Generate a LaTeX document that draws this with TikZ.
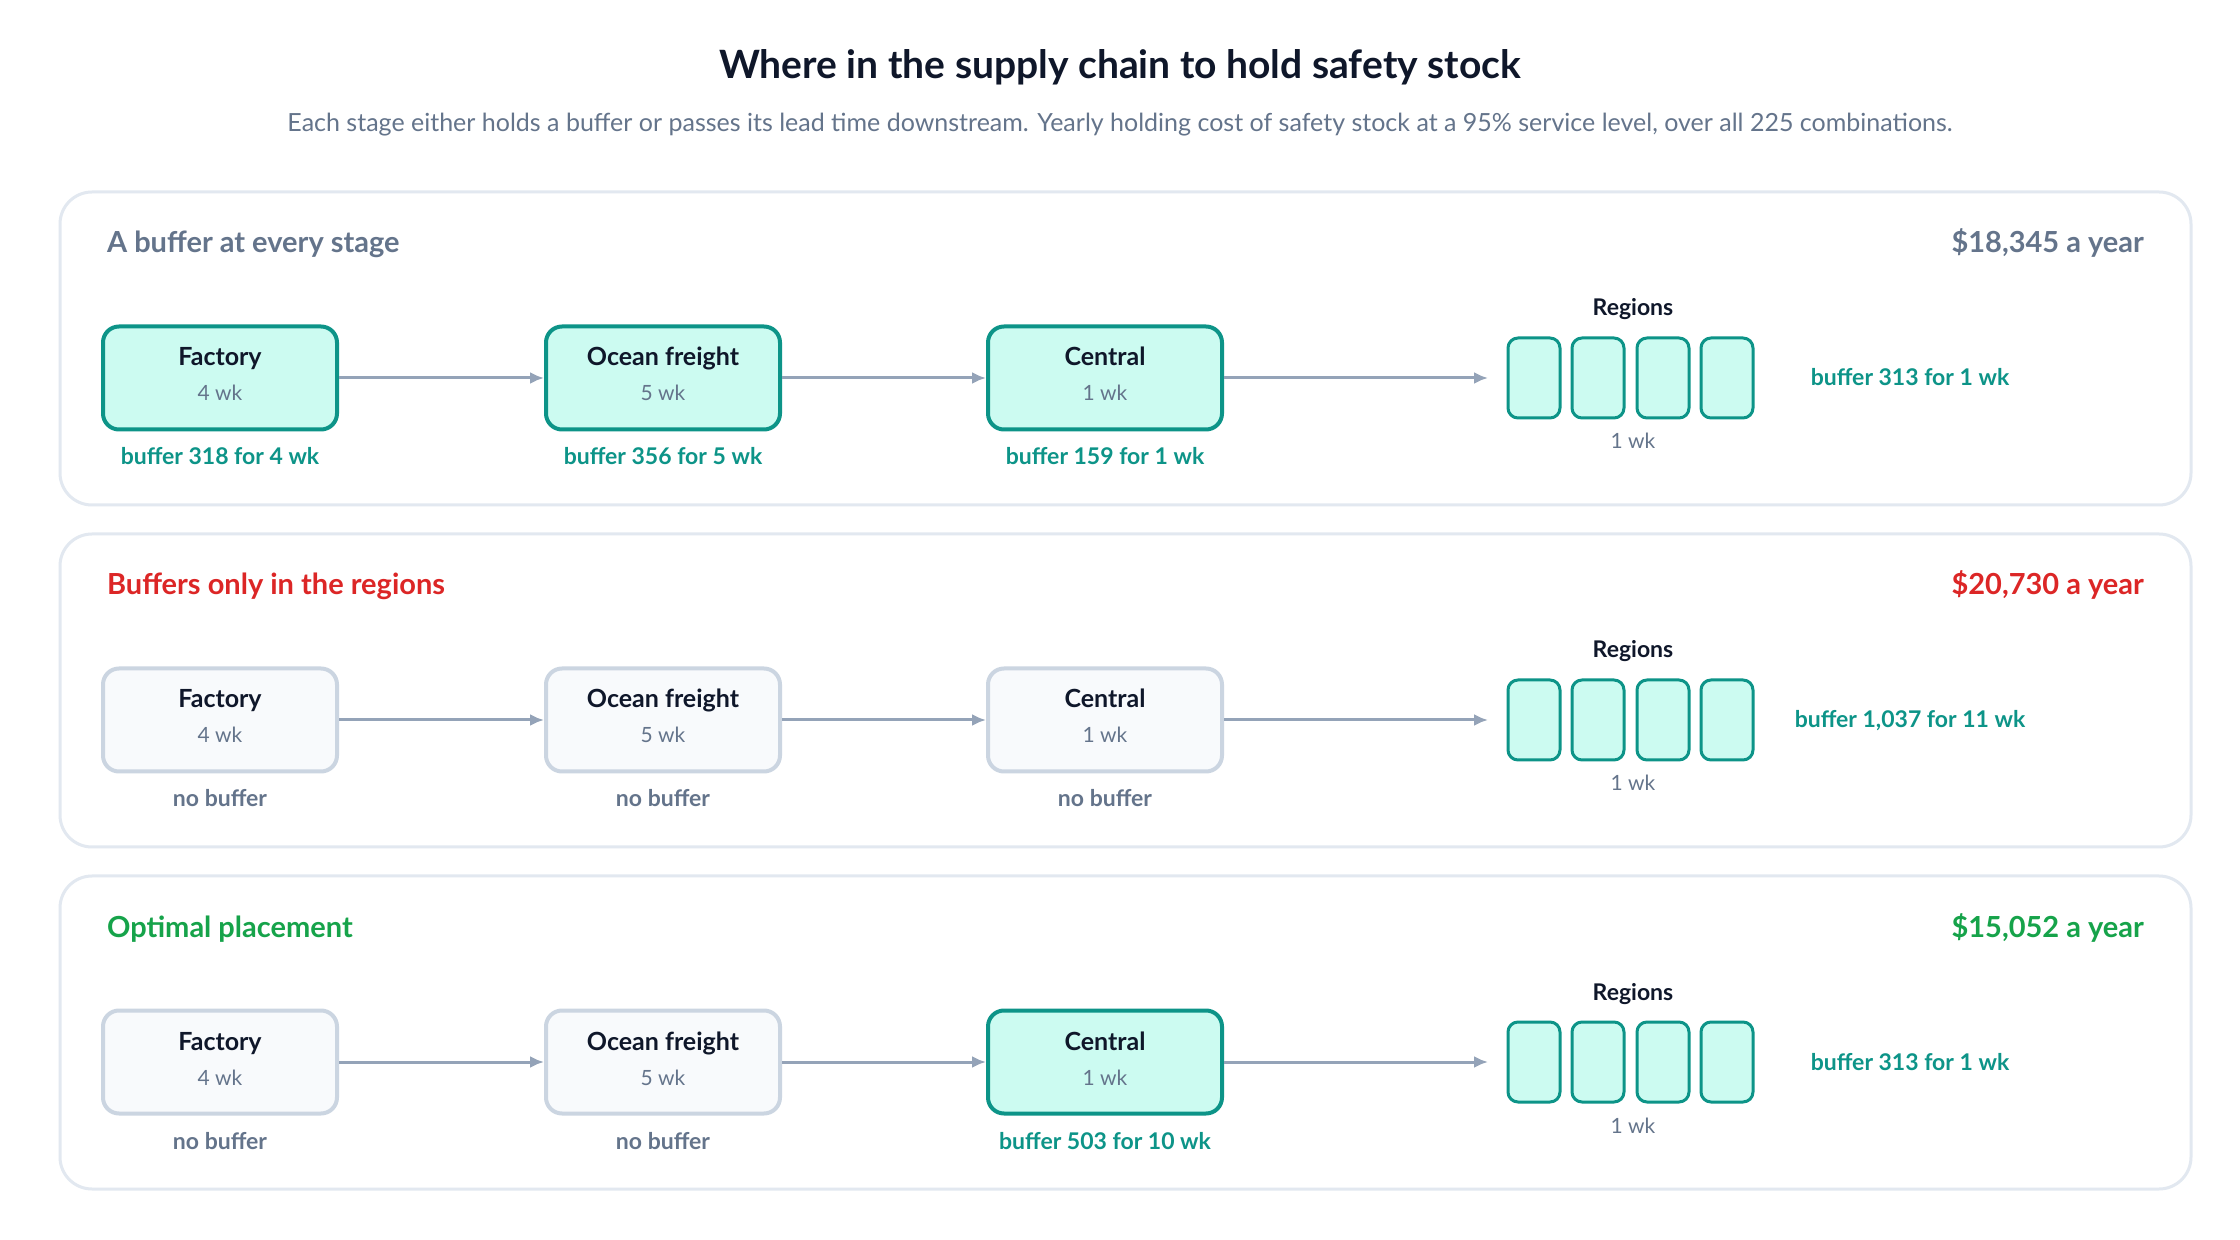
\documentclass[tikz,border=0pt]{standalone}
\usepackage{fontspec}
\setmainfont{Lato}
\usetikzlibrary{arrows.meta}
\definecolor{ink}{HTML}{0F172A}
\definecolor{slate}{HTML}{64748B}
\definecolor{teal}{HTML}{0D9488}
\definecolor{tealfill}{HTML}{CCFBF1}
\definecolor{grayfill}{HTML}{F8FAFC}
\definecolor{grayline}{HTML}{CBD5E1}
\definecolor{panelline}{HTML}{E2E8F0}
\definecolor{arrowc}{HTML}{94A3B8}
\definecolor{redc}{HTML}{DC2626}
\definecolor{greenc}{HTML}{16A34A}
\tikzset{
 panel/.style={draw=panelline,line width=1.5pt,rounded corners=16pt,fill=white},
 held/.style={draw=teal,fill=tealfill,line width=2pt,rounded corners=8pt,minimum width=117pt,minimum height=51.5pt},
 pass/.style={draw=grayline,fill=grayfill,line width=2pt,rounded corners=8pt,minimum width=117pt,minimum height=51.5pt},
 reg/.style={draw=teal,fill=tealfill,line width=1.5pt,rounded corners=5pt,minimum width=26pt,minimum height=40pt},
 txt/.style={anchor=base},
 bt/.style={txt,font=\fontsize{12.5}{14}\selectfont\bfseries,text=ink},
 wk/.style={txt,font=\fontsize{10.5}{12}\selectfont,text=slate},
 buf/.style={txt,font=\fontsize{11.5}{13}\selectfont\bfseries,text=teal},
 nob/.style={txt,font=\fontsize{11.5}{13}\selectfont\bfseries,text=slate},
 flow/.style={draw=arrowc,line width=1.5pt,-{Latex[length=7pt,width=6pt]}},
}
\begin{document}
\begin{tikzpicture}[x=0.5pt,y=-0.5pt]
\useasboundingbox (0,0) rectangle (2240,1240);
\fill[white] (0,0) rectangle (2240,1240);
\node[anchor=base,font=\fontsize{19.5}{22}\selectfont\bfseries,text=ink] (title) at (1120,79) {Where in the supply chain to hold safety stock};
\node[anchor=base,font=\fontsize{12.5}{15}\selectfont,text=slate] (sub) at (1120,132) {Each stage either holds a buffer or passes its lead time downstream. Yearly holding cost of safety stock at a 95\% service level, over all 225 combinations.};
\newcommand{\mypanel}[5]{%
 \begin{scope}[yshift=-#1*0.5pt]
 \draw[panel] (60,192) rectangle (2191,505);
 \node[anchor=base west,font=\fontsize{14.5}{17}\selectfont\bfseries,text=#2] (pt#1) at (100,253) {#3};
 \node[anchor=base east,font=\fontsize{14.5}{17}\selectfont\bfseries,text=#2] (pc#1) at (2151,253) {#4};
 #5
 \end{scope}}
\newcommand{\stages}[7]{%
 \node[#1] (f\thepn) at (220,378) {};
 \node[#2] (o\thepn) at (663,378) {};
 \node[#3] (c\thepn) at (1105,378) {};
 \node[bt] at (220,366) {Factory}; \node[wk] at (220,401) {4 wk};
 \node[bt] at (663,366) {Ocean freight}; \node[wk] at (663,401) {5 wk};
 \node[bt] at (1105,366) {Central}; \node[wk] at (1105,401) {1 wk};
 \node[#4] at (220,465) {#5};
 \node[#6] at (663,465) {#7};
 \coordinate (e\thepn) at (1488,378);
 \node[reg] (r1\thepn) at (1534,378) {};
 \node[reg] (r2\thepn) at (1598,378) {};
 \node[reg] (r3\thepn) at (1663,378) {};
 \node[reg] (r4\thepn) at (1727,378) {};
 \node[bt,font=\fontsize{11.5}{13}\selectfont\bfseries] at (1633,316) {Regions};
 \node[wk] at (1633,449) {1 wk};
 \draw[flow] (f\thepn) -- (o\thepn);
 \draw[flow] (o\thepn) -- (c\thepn);
 \draw[flow] (c\thepn) -- (e\thepn);}
\newcounter{pn}
\setcounter{pn}{1}
\mypanel{0}{slate}{A buffer at every stage}{\$18,345 a year}{%
 \stages{held}{held}{held}{buf}{buffer 318 for 4 wk}{buf}{buffer 356 for 5 wk}
 \node[buf] at (1105,465) {buffer 159 for 1 wk};
 \node[buf] at (1910,386) {buffer 313 for 1 wk};}
\setcounter{pn}{2}
\mypanel{342}{redc}{Buffers only in the regions}{\$20,730 a year}{%
 \stages{pass}{pass}{pass}{nob}{no buffer}{nob}{no buffer}
 \node[nob] at (1105,465) {no buffer};
 \node[buf] at (1910,386) {buffer 1,037 for 11 wk};}
\setcounter{pn}{3}
\mypanel{684}{greenc}{Optimal placement}{\$15,052 a year}{%
 \stages{pass}{pass}{held}{nob}{no buffer}{nob}{no buffer}
 \node[buf] at (1105,465) {buffer 503 for 10 wk};
 \node[buf] at (1910,386) {buffer 313 for 1 wk};}
\end{tikzpicture}
\end{document}
